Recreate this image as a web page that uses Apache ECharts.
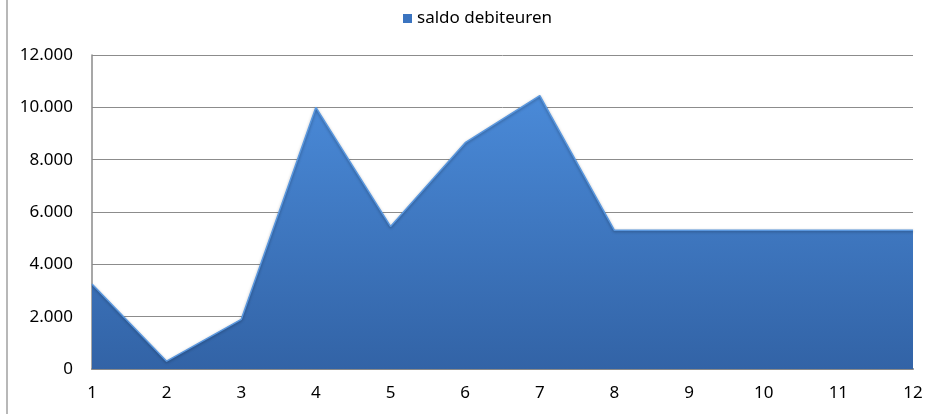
<!DOCTYPE html>
<html><head><meta charset="utf-8">
<script src="https://cdn.jsdelivr.net/npm/echarts@6/dist/echarts.min.js"></script>
<style>html,body{margin:0;padding:0;background:#fff}#c{width:933px;height:414px}</style>
</head><body><div id="c"></div>
<script>
const categories = ['1','2','3','4','5','6','7','8','9','10','11','12'];
const saldoDebiteuren = [3250, 300, 1900, 10000, 5450, 8650, 10450, 5300, 5300, 5300, 5300, 5300];
const seriesName = 'saldo debiteuren';

function fmt(v){ return String(v).replace(/\B(?=(\d{3})+(?!\d))/g, '.'); }

const chart = echarts.init(document.getElementById('c'));
chart.setOption({
  animation: false,
  textStyle: { fontFamily: 'Noto Sans' },
  graphic: [{ type: 'line', shape: { x1: 7, y1: 0, x2: 7, y2: 414 }, style: { stroke: '#a0a0a0', lineWidth: 1.5 } }],
  legend: {
    top: 5, left: 398, itemWidth: 9, itemHeight: 9, itemGap: 5,
    data: [{ name: seriesName, icon: 'rect' }],
    textStyle: { fontSize: 17, color: '#000', fontFamily: 'Noto Sans' }
  },
  grid: { left: 92, right: 20, top: 55, bottom: 45 },
  xAxis: {
    type: 'category', data: categories, boundaryGap: false,
    axisLine: { lineStyle: { color: '#8a8a8a', width: 2 } },
    axisTick: { show: false },
    axisLabel: { color: '#000', fontSize: 17, margin: 16, fontFamily: 'Noto Sans' }
  },
  yAxis: {
    type: 'value', min: 0, max: 12000, interval: 2000,
    axisLine: { show: true, lineStyle: { color: '#8a8a8a', width: 1.5 } },
    axisTick: { show: false },
    splitLine: { lineStyle: { color: '#8c8c8c', width: 1 } },
    axisLabel: { color: '#000', fontSize: 17, margin: 19, formatter: fmt, fontFamily: 'Noto Sans' }
  },
  series: [{
    name: seriesName, type: 'line', data: saldoDebiteuren,
    symbol: 'none',
    lineStyle: { color: '#5a97de', width: 1.5, shadowColor: 'rgba(0,0,0,0.35)', shadowBlur: 3, shadowOffsetY: 1 },
    itemStyle: { color: '#3b74c0' },
    areaStyle: {
      opacity: 1,
      color: new echarts.graphic.LinearGradient(0, 0, 0, 1, [
        { offset: 0, color: '#4a8ad8' },
        { offset: 1, color: '#3263a6' }
      ])
    }
  }]
});
</script></body></html>
